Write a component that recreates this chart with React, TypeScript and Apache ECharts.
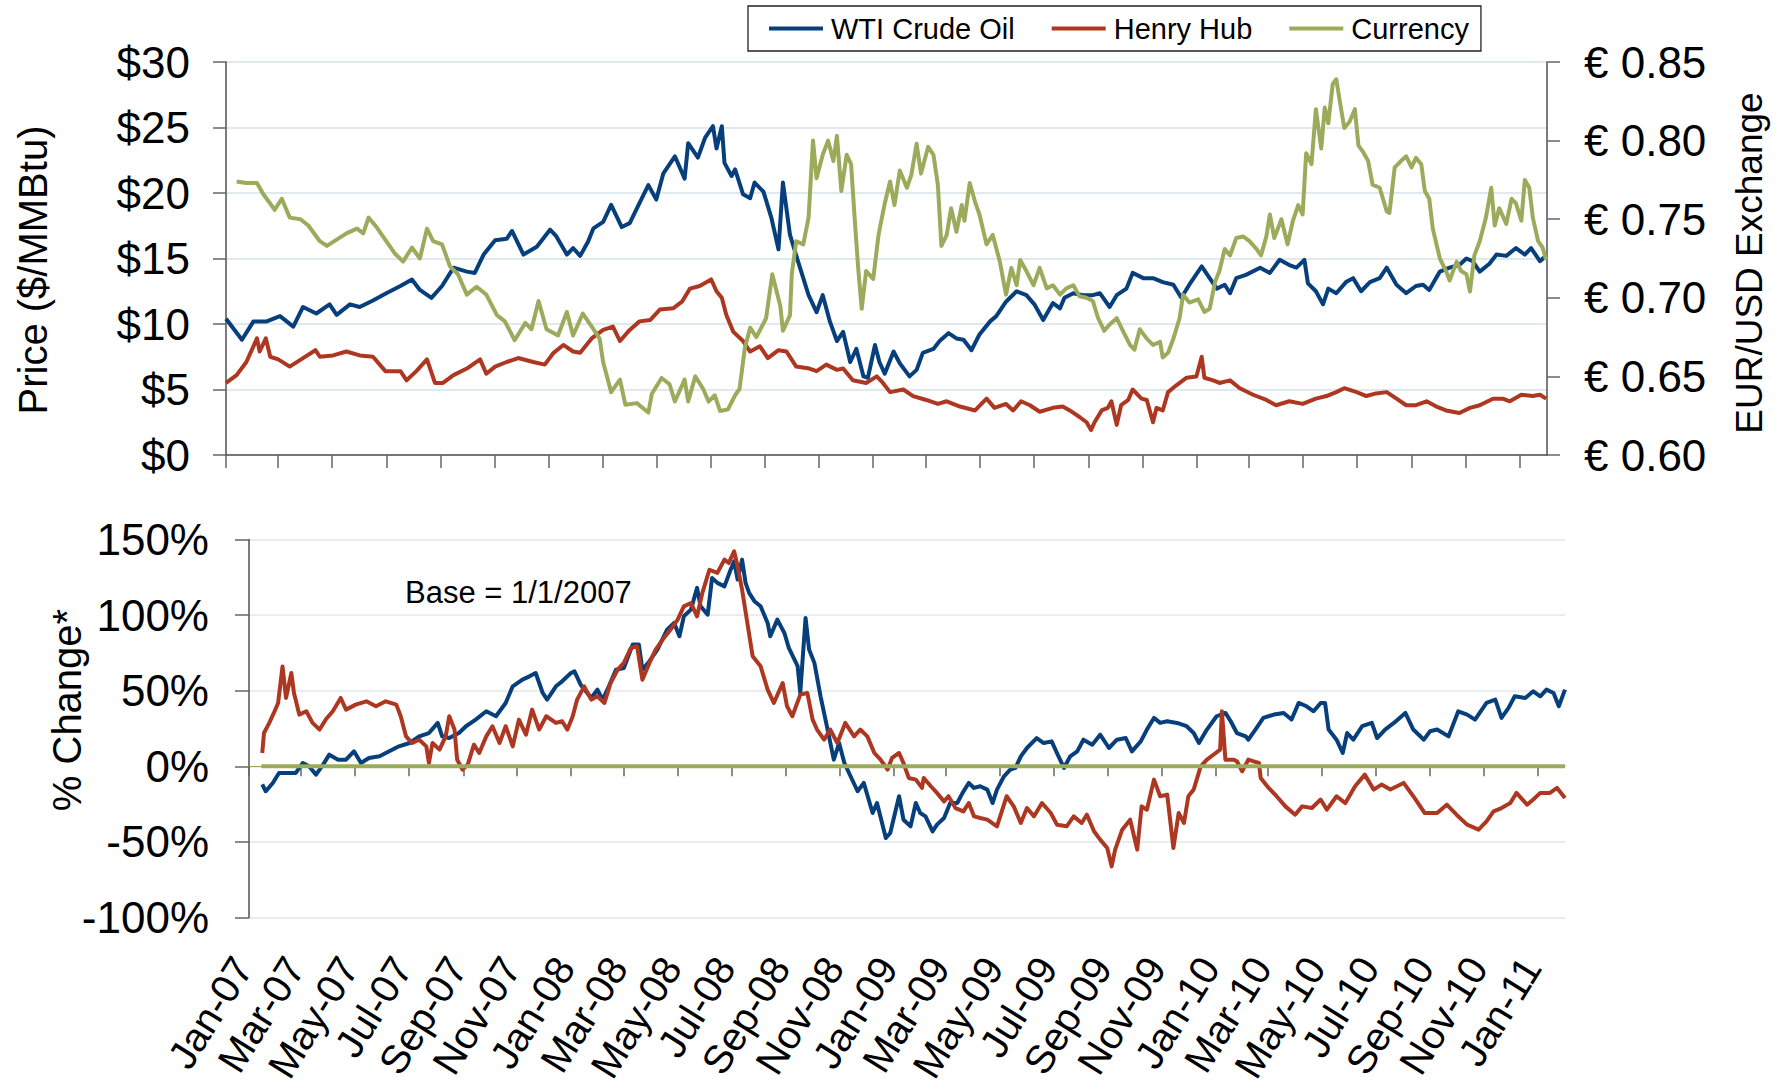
import { useEffect, useRef } from 'react';
import * as echarts from 'echarts';

const FONT = '"Liberation Sans", Arial, Helvetica, sans-serif';
const BLUE = '#063f7b';
const RED = '#ad3720';
const GREEN = '#9bab5b';

// x values are days since 2007-01-01
const BASE_DATE = '2007-01-01';
const AXIS_END_DATE = '2011-02-01';

const monthTickDates = [
  '2007-01-01', '2007-03-01', '2007-05-01', '2007-07-01', '2007-09-01', '2007-11-01',
  '2008-01-01', '2008-03-01', '2008-05-01', '2008-07-01', '2008-09-01', '2008-11-01',
  '2009-01-01', '2009-03-01', '2009-05-01', '2009-07-01', '2009-09-01', '2009-11-01',
  '2010-01-01', '2010-03-01', '2010-05-01', '2010-07-01', '2010-09-01', '2010-11-01',
  '2011-01-01',
];
const monthTickLabels = [
  'Jan-07', 'Mar-07', 'May-07', 'Jul-07', 'Sep-07', 'Nov-07',
  'Jan-08', 'Mar-08', 'May-08', 'Jul-08', 'Sep-08', 'Nov-08',
  'Jan-09', 'Mar-09', 'May-09', 'Jul-09', 'Sep-09', 'Nov-09',
  'Jan-10', 'Mar-10', 'May-10', 'Jul-10', 'Sep-10', 'Nov-10',
  'Jan-11',
];

const legendNames = ['WTI Crude Oil', 'Henry Hub', 'Currency'];

// Top panel: price ($/MMBtu), [day, value]
const wtiPrice = [
  [0, 10.4], [18, 8.8], [31, 10.2], [46, 10.2], [61, 10.6], [76, 9.8], [87, 11.3], [102, 10.8], [117, 11.5], [125, 10.7],
  [140, 11.5], [151, 11.3], [166, 11.8], [181, 12.35], [197, 12.9], [210, 13.4], [219, 12.6], [232, 12.0], [244, 12.9], [257, 14.3],
  [272, 14.0], [281, 13.9], [291, 15.3], [304, 16.4], [317, 16.5], [323, 17.1], [336, 15.3], [351, 15.9], [366, 17.2], [373, 16.7],
  [385, 15.3], [392, 15.8], [400, 15.2], [409, 16.3], [415, 17.3], [426, 17.8], [435, 19.1], [447, 17.4], [456, 17.7], [466, 19.1],
  [477, 20.6], [486, 19.5], [494, 21.5], [507, 22.8], [518, 21.1], [522, 23.8], [533, 22.7], [541, 24.2], [550, 25.1], [554, 23.4],
  [560, 25.1], [563, 22.3], [571, 21.3], [575, 21.8], [584, 19.9], [592, 19.6], [597, 20.8], [607, 20.1], [616, 18.1], [624, 15.7],
  [629, 20.8], [637, 16.8], [646, 14.8], [658, 12.2], [667, 10.9], [674, 12.2], [682, 10.2], [690, 8.7], [697, 9.4], [705, 7.1],
  [712, 8.1], [720, 6.0], [725, 5.9], [733, 8.4], [738, 7.1], [744, 6.2], [754, 7.9], [761, 7.0], [772, 6.0], [780, 6.5],
  [787, 7.8], [799, 8.1], [806, 8.7], [816, 9.3], [825, 8.9], [833, 8.8], [842, 8.0], [851, 9.2], [863, 10.2], [870, 10.6],
  [881, 11.7], [893, 12.5], [904, 12.2], [913, 11.5], [923, 10.3], [934, 11.6], [942, 11.2], [947, 12.0], [957, 12.35], [968, 12.2],
  [979, 12.2], [987, 12.35], [998, 11.3], [1006, 12.2], [1017, 12.7], [1024, 13.9], [1036, 13.5], [1047, 13.5], [1058, 13.2], [1070, 13.0],
  [1079, 12.0], [1088, 13.0], [1102, 14.4], [1111, 13.5], [1119, 12.7], [1128, 13.0], [1134, 12.35], [1141, 13.5], [1152, 13.75], [1168, 14.3],
  [1179, 13.9], [1190, 14.9], [1201, 14.5], [1209, 14.3], [1218, 14.9], [1222, 13.1], [1231, 12.5], [1239, 11.5], [1245, 12.7], [1254, 12.35],
  [1265, 13.2], [1273, 13.5], [1282, 12.5], [1292, 13.2], [1303, 13.5], [1311, 14.3], [1322, 13.0], [1333, 12.35], [1344, 12.9], [1352, 13.0],
  [1359, 12.6], [1371, 14.0], [1382, 14.3], [1393, 14.5], [1401, 15.0], [1408, 14.8], [1416, 14.0], [1427, 14.6], [1435, 15.3], [1446, 15.2],
  [1457, 15.8], [1467, 15.3], [1474, 15.8], [1484, 14.8], [1491, 15.2],
];

const henryHubPrice = [
  [0, 5.5], [12, 6.1], [23, 7.1], [35, 8.9], [38, 7.9], [45, 8.9], [50, 7.5], [59, 7.3], [72, 6.75], [87, 7.4],
  [101, 8.0], [106, 7.5], [121, 7.6], [136, 7.9], [151, 7.6], [166, 7.5], [180, 6.4], [197, 6.4], [204, 5.7], [215, 6.4],
  [227, 7.3], [236, 5.5], [245, 5.5], [257, 6.1], [272, 6.6], [287, 7.3], [294, 6.2], [304, 6.75], [317, 7.1], [330, 7.4],
  [347, 7.1], [360, 6.9], [370, 7.8], [381, 8.4], [392, 7.9], [400, 7.8], [413, 8.9], [426, 9.55], [437, 9.8], [445, 8.7],
  [456, 9.55], [467, 10.2], [479, 10.3], [490, 11.1], [505, 11.2], [515, 11.7], [524, 12.7], [535, 12.9], [548, 13.4], [554, 12.5],
  [560, 12.0], [565, 10.7], [573, 9.4], [584, 8.7], [592, 7.9], [603, 8.3], [612, 7.4], [624, 8.0], [633, 7.9], [644, 6.75],
  [659, 6.6], [667, 6.4], [678, 6.9], [690, 6.5], [697, 6.6], [708, 5.7], [723, 5.5], [735, 6.0], [742, 5.5], [750, 4.8],
  [765, 5.0], [776, 4.5], [791, 4.2], [804, 3.9], [814, 4.1], [829, 3.7], [846, 3.4], [859, 4.3], [868, 3.6], [881, 3.9],
  [889, 3.4], [898, 4.1], [908, 3.8], [919, 3.3], [934, 3.6], [945, 3.7], [953, 3.4], [964, 2.9], [972, 2.5], [977, 1.9],
  [981, 2.5], [989, 3.4], [996, 3.6], [1000, 4.1], [1006, 2.3], [1011, 3.8], [1019, 4.2], [1024, 5.0], [1034, 4.3], [1040, 4.2],
  [1047, 2.5], [1051, 3.6], [1058, 3.4], [1064, 4.8], [1073, 5.3], [1085, 5.9], [1096, 6.0], [1102, 7.5], [1105, 5.9], [1115, 5.7],
  [1122, 5.5], [1134, 5.7], [1145, 5.1], [1160, 4.6], [1175, 4.2], [1186, 3.8], [1201, 4.1], [1216, 3.9], [1231, 4.3], [1243, 4.5],
  [1254, 4.8], [1263, 5.1], [1277, 4.8], [1288, 4.5], [1299, 4.7], [1311, 4.8], [1322, 4.3], [1333, 3.8], [1344, 3.8], [1356, 4.1],
  [1367, 3.7], [1378, 3.4], [1393, 3.2], [1405, 3.6], [1416, 3.8], [1431, 4.3], [1442, 4.3], [1450, 4.1], [1463, 4.6], [1476, 4.5],
  [1484, 4.6], [1491, 4.3],
];

// EUR per USD (right axis)
const eurUsd = [
  [12, 0.774], [23, 0.773], [35, 0.773], [42, 0.766], [55, 0.756], [63, 0.763], [72, 0.751], [84, 0.75], [93, 0.746], [106, 0.736],
  [114, 0.733], [125, 0.737], [136, 0.741], [148, 0.744], [155, 0.741], [161, 0.751], [170, 0.745], [181, 0.736], [191, 0.728], [200, 0.723],
  [210, 0.732], [219, 0.725], [227, 0.744], [234, 0.736], [244, 0.734], [253, 0.72], [262, 0.715], [272, 0.702], [283, 0.707], [294, 0.702],
  [306, 0.689], [315, 0.685], [326, 0.673], [338, 0.684], [345, 0.68], [353, 0.698], [362, 0.68], [375, 0.676], [385, 0.691], [392, 0.676],
  [403, 0.69], [415, 0.68], [422, 0.674], [426, 0.659], [435, 0.64], [445, 0.648], [451, 0.632], [464, 0.633], [477, 0.627], [481, 0.639],
  [492, 0.649], [501, 0.645], [507, 0.634], [518, 0.648], [522, 0.634], [530, 0.65], [539, 0.642], [545, 0.634], [552, 0.638], [558, 0.628],
  [567, 0.629], [575, 0.638], [580, 0.642], [586, 0.668], [592, 0.681], [599, 0.675], [610, 0.687], [617, 0.715], [626, 0.695], [629, 0.679],
  [637, 0.689], [639, 0.715], [644, 0.736], [652, 0.734], [658, 0.751], [663, 0.80], [667, 0.776], [674, 0.791], [680, 0.80], [686, 0.787],
  [690, 0.803], [695, 0.768], [701, 0.791], [706, 0.785], [710, 0.751], [714, 0.719], [718, 0.693], [723, 0.717], [731, 0.712], [737, 0.74],
  [744, 0.76], [750, 0.774], [755, 0.759], [761, 0.781], [769, 0.77], [774, 0.778], [780, 0.798], [785, 0.779], [793, 0.796], [799, 0.791],
  [804, 0.772], [808, 0.733], [814, 0.74], [819, 0.757], [825, 0.742], [831, 0.759], [834, 0.749], [840, 0.773], [846, 0.761], [851, 0.753],
  [859, 0.734], [866, 0.74], [874, 0.723], [881, 0.702], [887, 0.719], [893, 0.708], [897, 0.724], [904, 0.717], [912, 0.708], [919, 0.719],
  [927, 0.706], [934, 0.708], [942, 0.702], [949, 0.706], [957, 0.708], [964, 0.701], [972, 0.70], [979, 0.698], [985, 0.687], [992, 0.679],
  [998, 0.683], [1006, 0.687], [1013, 0.679], [1021, 0.67], [1026, 0.667], [1032, 0.68], [1040, 0.674], [1047, 0.67], [1055, 0.672], [1058, 0.662],
  [1064, 0.665], [1070, 0.674], [1077, 0.687], [1081, 0.702], [1088, 0.697], [1098, 0.699], [1105, 0.691], [1111, 0.693], [1117, 0.71], [1122, 0.717],
  [1128, 0.731], [1134, 0.727], [1141, 0.738], [1149, 0.739], [1156, 0.736], [1164, 0.731], [1169, 0.727], [1175, 0.739], [1179, 0.753], [1184, 0.738],
  [1192, 0.75], [1199, 0.734], [1205, 0.749], [1211, 0.759], [1216, 0.753], [1220, 0.792], [1226, 0.785], [1231, 0.82], [1237, 0.795], [1241, 0.821],
  [1245, 0.811], [1250, 0.836], [1254, 0.839], [1258, 0.825], [1263, 0.808], [1269, 0.812], [1275, 0.82], [1279, 0.797], [1284, 0.793], [1290, 0.787],
  [1295, 0.772], [1303, 0.77], [1311, 0.755], [1314, 0.754], [1320, 0.783], [1327, 0.787], [1333, 0.79], [1339, 0.783], [1344, 0.789], [1350, 0.785],
  [1354, 0.768], [1359, 0.763], [1363, 0.744], [1371, 0.725], [1378, 0.717], [1382, 0.711], [1390, 0.723], [1395, 0.717], [1401, 0.715], [1405, 0.704],
  [1410, 0.727], [1416, 0.736], [1423, 0.751], [1429, 0.77], [1433, 0.746], [1438, 0.757], [1446, 0.747], [1452, 0.763], [1457, 0.76], [1463, 0.749],
  [1467, 0.775], [1472, 0.77], [1476, 0.751], [1482, 0.736], [1487, 0.732], [1491, 0.724],
];

// Bottom panel: % change vs 1/1/2007, [day, percent]
const wtiChange = [
  [15, -12], [19, -16.5], [27, -11], [34, -4.4], [42, -4.4], [53, -4.4], [61, 2.2], [68, 0], [76, -5.5], [84, 1.1],
  [91, 7.7], [101, 4.4], [110, 4.4], [119, 9.9], [127, 2.2], [136, 5.5], [148, 6.6], [159, 9.9], [170, 13.2], [182, 15.4],
  [193, 19.8], [204, 22], [214, 28.7], [219, 19.8], [227, 18.7], [238, 22], [246, 26.5], [257, 30.9], [269, 36.4], [280, 33.1],
  [291, 41.9], [299, 52.9], [310, 57.3], [318, 59.5], [325, 61.7], [333, 48.5], [338, 44.1], [348, 52.9], [355, 56.2], [365, 61.7],
  [369, 62.8], [376, 54], [388, 45.2], [395, 50.7], [401, 44.1], [408, 52.9], [416, 63.9], [425, 65], [435, 80.5], [442, 80.5],
  [446, 63.9], [454, 69.5], [463, 77.2], [474, 90.4], [482, 94.8], [488, 86], [493, 99.2], [501, 103.6], [508, 118], [512, 105.8],
  [520, 100.3], [525, 124.6], [531, 121.3], [539, 119], [546, 130], [550, 135.6], [554, 123.5], [559, 136.7], [563, 121.3], [567, 114.7],
  [573, 109.2], [580, 105.8], [588, 94.8], [591, 86], [599, 97], [607, 88.2], [612, 78.3], [622, 66.2], [625, 48.5], [631, 98.1],
  [635, 77.2], [641, 68.4], [648, 46.3], [656, 24.3], [663, 4.4], [669, 15.4], [675, 2.2], [682, -6.6], [690, -16.5], [697, -11],
  [707, -30.9], [712, -24.3], [722, -47.4], [727, -44.1], [737, -19.8], [742, -35.3], [750, -39.7], [756, -24.3], [761, -30.9], [767, -33.1],
  [775, -43], [780, -38.6], [788, -34.2], [795, -24.3], [803, -24.3], [809, -17.6], [816, -11], [822, -14.3], [829, -13.2], [837, -15.4],
  [843, -24.3], [848, -15.4], [856, -6.6], [863, -2.2], [869, -1.1], [875, 6.6], [882, 12.1], [893, 18.7], [901, 15.4], [910, 16.5],
  [916, 8.8], [924, -1.1], [931, 6.6], [939, 9.9], [946, 17.6], [956, 14.3], [965, 20.9], [975, 12.1], [984, 17.6], [994, 18.7],
  [1001, 9.9], [1011, 16.5], [1018, 24.3], [1026, 32], [1033, 28.7], [1041, 29.8], [1052, 28.7], [1063, 26.5], [1071, 22], [1077, 15.4],
  [1086, 24.3], [1097, 33.1], [1107, 35.3], [1113, 29.8], [1120, 22], [1130, 19.8], [1133, 17.6], [1141, 24.3], [1150, 32], [1162, 34.2],
  [1173, 35.3], [1182, 30.9], [1190, 41.9], [1199, 39.7], [1207, 36.4], [1215, 41.9], [1220, 41.9], [1224, 24.3], [1233, 17.6], [1240, 8.8],
  [1245, 22], [1252, 17.6], [1262, 26.5], [1273, 28.7], [1279, 18.7], [1288, 24.3], [1298, 28.7], [1311, 35.3], [1320, 24.3], [1332, 17.6],
  [1339, 23.2], [1347, 24.3], [1360, 19.8], [1371, 36.4], [1381, 34.2], [1390, 30.9], [1403, 41.9], [1413, 44.1], [1420, 32], [1428, 38.6],
  [1435, 46.3], [1447, 45.2], [1456, 49.6], [1464, 46.3], [1471, 50.7], [1479, 48.5], [1485, 39.7], [1492, 50.7],
];

const henryHubChange = [
  [15, 8.8], [17, 22], [23, 28.7], [29, 36.4], [33, 41.9], [38, 66], [42, 45.2], [48, 61.7], [51, 48.5], [57, 34.2],
  [65, 36.4], [72, 28.7], [80, 24.3], [87, 30.9], [95, 36.4], [104, 45.2], [110, 37.5], [121, 40.8], [133, 43], [144, 39.7],
  [155, 43], [167, 40.8], [172, 33.1], [178, 19.8], [185, 15.4], [193, 17.6], [201, 13.2], [204, 2.2], [208, 15.4], [216, 11],
  [223, 19.8], [227, 33.1], [233, 24.3], [236, 4.4], [242, -2.2], [248, 1.1], [255, 14.3], [261, 8.8], [269, 19.8], [276, 26.5],
  [284, 15.4], [291, 26.5], [299, 13.2], [306, 30.9], [314, 20.9], [321, 37.5], [329, 24.3], [337, 33.1], [348, 28.7], [355, 29.8],
  [361, 24.3], [367, 33.1], [372, 44.1], [380, 52.9], [388, 44.1], [395, 46.3], [403, 41.9], [410, 55.1], [418, 63.9], [425, 68.4],
  [433, 78.3], [440, 79.4], [446, 57.3], [454, 68.4], [461, 77.2], [469, 83.8], [478, 90.4], [486, 97], [493, 105.8], [501, 108],
  [508, 99.2], [514, 114.7], [522, 130], [531, 127.9], [539, 136.7], [544, 134.5], [550, 142.2], [554, 132.3], [559, 116.9], [565, 94.8],
  [571, 72.8], [580, 66.2], [588, 50.7], [595, 41.9], [605, 55.1], [610, 39.7], [616, 33.1], [625, 47.4], [633, 48.5], [639, 30.9],
  [644, 24.3], [652, 17.6], [659, 24.3], [667, 15.4], [676, 28.7], [686, 19.8], [693, 24.3], [701, 19.8], [709, 8.8], [716, 4.4],
  [724, -2.2], [729, 5.5], [737, 8.8], [742, 2.2], [748, -7.7], [756, -8.8], [763, -14.3], [765, -7.7], [773, -13.2], [780, -17.6],
  [788, -23.2], [793, -19.8], [801, -27.6], [810, -29.8], [816, -24.3], [822, -33.1], [829, -34.2], [837, -35.3], [848, -39.7], [859, -19.8],
  [867, -26.5], [875, -37.5], [882, -27.6], [890, -33.1], [899, -24.3], [909, -30.9], [916, -38.6], [927, -39.7], [935, -33.1], [944, -37.5],
  [950, -32], [958, -43], [965, -48.5], [973, -54], [978, -66.2], [982, -55.1], [990, -41.9], [999, -35.3], [1007, -55.1], [1012, -26.5],
  [1018, -28.7], [1026, -8.8], [1033, -19.8], [1041, -18.7], [1048, -54], [1054, -30.9], [1060, -37.5], [1065, -19.8], [1071, -15.4], [1079, 0],
  [1086, 4.4], [1096, 8.8], [1101, 11], [1103, 36.4], [1107, 4.4], [1116, 4.4], [1120, 3.3], [1126, -3.3], [1133, 4.4], [1139, 3.3],
  [1145, 2.2], [1147, -7.7], [1156, -14.3], [1165, -19.8], [1175, -26.5], [1186, -32], [1194, -26.5], [1205, -27.6], [1215, -22], [1222, -28.7],
  [1233, -19.8], [1243, -24.3], [1254, -13.2], [1265, -5.5], [1275, -15.4], [1284, -12.1], [1294, -15.4], [1309, -11], [1320, -19.8], [1333, -30.9],
  [1347, -30.9], [1358, -25.4], [1369, -32], [1381, -38.6], [1394, -41.9], [1403, -36.4], [1411, -29.8], [1420, -27.6], [1430, -24.3], [1437, -17.6],
  [1449, -25.4], [1456, -22], [1464, -17.6], [1475, -17.6], [1483, -14.3], [1492, -21],
];

const currencyChange = [[14, 0], [1492, 0]];

const priceTicks = { min: 0, max: 30, interval: 5 };
const fxTicks = { min: 0.6, max: 0.85, interval: 0.05 };
const pctTicks = { min: -100, max: 150, interval: 50 };

function dayOf(s: string): number {
  return Math.round((Date.parse(s) - Date.parse(BASE_DATE)) / 86400000);
}

export default function App() {
  const ref = useRef<HTMLDivElement | null>(null);

  useEffect(() => {
    if (!ref.current) return;
    const chart = echarts.init(ref.current, null, { renderer: 'svg' });
    const tickDays = monthTickDates.map(dayOf);
    const axisEnd = dayOf(AXIS_END_DATE);
    const axisColor = '#505050';
    const tickColor = '#666666';
    const TICK_FONT = 44;

    const lineSeries = (name: string, color: string, data: number[][], xi: number, yi: number, z: number) => ({
      name,
      type: 'line',
      xAxisIndex: xi,
      yAxisIndex: yi,
      data,
      showSymbol: false,
      symbol: 'none',
      z,
      lineStyle: { color, width: 4, join: 'round' },
      itemStyle: { color },
      emphasis: { disabled: true },
    });

    const option: any = {
      animation: false,
      backgroundColor: '#ffffff',
      textStyle: { fontFamily: FONT },
      legend: {
        data: legendNames,
        left: 748,
        top: 6,
        orient: 'horizontal',
        padding: [8, 12, 8, 21],
        itemGap: 37,
        itemWidth: 54,
        itemHeight: 4,
        icon: 'rect',
        borderColor: '#222222',
        borderWidth: 1.3,
        selectedMode: false,
        textStyle: { fontSize: 29, color: '#000', fontFamily: FONT, padding: [0, 0, 0, 3] },
      },
      grid: [
        { left: 226, top: 62, width: 1321, height: 393, containLabel: false, outerBoundsMode: 'none' },
        { left: 249, top: 539.5, width: 1316, height: 378, containLabel: false, outerBoundsMode: 'none' },
      ],
      xAxis: [
        {
          gridIndex: 0, type: 'value', min: 0, max: axisEnd,
          axisLine: { show: true, onZero: false, lineStyle: { color: axisColor, width: 1.5 } },
          axisTick: { show: true, customValues: tickDays, length: 13, lineStyle: { color: tickColor, width: 1.5 } },
          axisLabel: { show: false },
          splitLine: { show: false },
        },
        {
          gridIndex: 1, type: 'value', min: 0, max: axisEnd, position: 'top',
          axisLine: { show: true, onZero: true, lineStyle: { color: GREEN, width: 1 } },
          axisTick: { show: true, inside: true, customValues: tickDays, length: 10, lineStyle: { color: tickColor, width: 1.5 } },
          axisLabel: { show: false },
          splitLine: { show: false },
        },
        {
          gridIndex: 1, type: 'value', min: 0, max: axisEnd, position: 'bottom',
          axisLine: { show: false, onZero: false },
          axisTick: { show: false },
          axisLabel: {
            customValues: tickDays,
            formatter: (v: number) => {
              const i = tickDays.indexOf(Math.round(v));
              return i >= 0 ? monthTickLabels[i] : '';
            },
            rotate: 58,
            margin: 33,
            padding: [0, 12, 0, 0],
            fontSize: 40,
            color: '#000',
            fontFamily: FONT,
          },
          splitLine: { show: false },
        },
      ],
      yAxis: [
        {
          gridIndex: 0, type: 'value', position: 'left', ...priceTicks,
          axisLine: { show: true, lineStyle: { color: axisColor, width: 1.5 } },
          axisTick: { show: true, length: 13, lineStyle: { color: tickColor, width: 1.5 } },
          axisLabel: { formatter: (v: number) => '$' + v, fontSize: TICK_FONT, margin: 36, color: '#000', fontFamily: FONT },
          splitLine: { show: true, lineStyle: { color: '#d6e3e8', width: 1.5 } },
        },
        {
          gridIndex: 0, type: 'value', position: 'right', ...fxTicks,
          axisLine: { show: true, lineStyle: { color: axisColor, width: 1.5 } },
          axisTick: { show: true, length: 13, lineStyle: { color: tickColor, width: 1.5 } },
          axisLabel: { formatter: (v: number) => '€ ' + v.toFixed(2), fontSize: TICK_FONT, margin: 37, color: '#000', fontFamily: FONT },
          splitLine: { show: false },
        },
        {
          gridIndex: 1, type: 'value', position: 'left', ...pctTicks,
          axisLine: { show: true, onZero: false, lineStyle: { color: axisColor, width: 1.5 } },
          axisTick: { show: true, length: 14, lineStyle: { color: tickColor, width: 1.5 } },
          axisLabel: { formatter: (v: number) => v + '%', fontSize: TICK_FONT, margin: 40, color: '#000', fontFamily: FONT },
          splitLine: { show: true, lineStyle: { color: '#e0e8eb', width: 1.5 } },
        },
      ],
      graphic: [
        {
          type: 'text', x: 33, y: 270, rotation: Math.PI / 2,
          style: { text: 'Price ($/MMBtu)', fontSize: 40, fontFamily: FONT, fill: '#000', align: 'center', verticalAlign: 'middle' },
        },
        {
          type: 'text', x: 1749, y: 263, rotation: Math.PI / 2,
          style: { text: 'EUR/USD Exchange', fontSize: 37, fontFamily: FONT, fill: '#000', align: 'center', verticalAlign: 'middle' },
        },
        {
          type: 'text', x: 67, y: 710, rotation: Math.PI / 2,
          style: { text: '% Change*', fontSize: 40, fontFamily: FONT, fill: '#000', align: 'center', verticalAlign: 'middle' },
        },
        {
          type: 'text', x: 405, y: 592,
          style: { text: 'Base = 1/1/2007', fontSize: 31, fontFamily: FONT, fill: '#000', align: 'left', verticalAlign: 'middle' },
        },
      ],
      series: [
        lineSeries('WTI Crude Oil', BLUE, wtiPrice, 0, 0, 2),
        lineSeries('Henry Hub', RED, henryHubPrice, 0, 0, 3),
        lineSeries('Currency', GREEN, eurUsd, 0, 1, 4),
        lineSeries('WTI Crude Oil', BLUE, wtiChange, 1, 2, 2),
        lineSeries('Henry Hub', RED, henryHubChange, 1, 2, 3),
        lineSeries('Currency', GREEN, currencyChange, 1, 2, 4),
      ],
    };

    chart.setOption(option);
    return () => {
      chart.dispose();
    };
  }, []);

  return (
    <div
      ref={ref}
      style={{ position: 'fixed', left: 0, top: 0, width: 1787, height: 1090, background: '#fff' }}
    />
  );
}
